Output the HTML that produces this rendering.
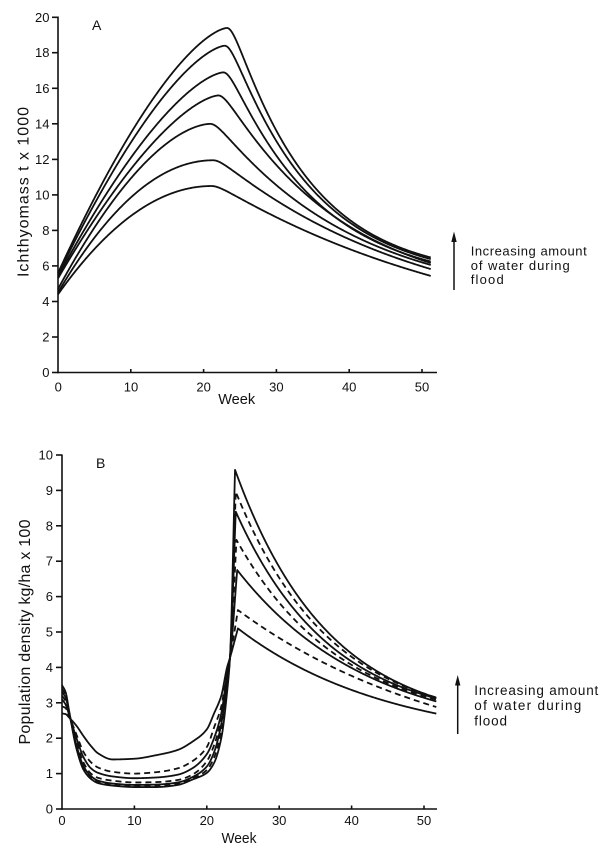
<!DOCTYPE html>
<html>
<head>
<meta charset="utf-8">
<style>
html,body{margin:0;padding:0;background:#fff;}
svg{display:block;}
text{font-family:"Liberation Sans",sans-serif;fill:#111;}
</style>
</head>
<body>
<svg id="s" width="600" height="847" viewBox="0 0 600 847" xmlns="http://www.w3.org/2000/svg">
  <!-- ================= PANEL A ================= -->
  <g stroke="#111" stroke-width="1.6" fill="none">
    <line x1="58" y1="16.5" x2="58" y2="373.2"/>
    <line x1="57.2" y1="372.5" x2="437" y2="372.5"/>
    <!-- y ticks -->
    <line x1="52" y1="372.5" x2="58" y2="372.5"/>
    <line x1="52" y1="337" x2="58" y2="337"/>
    <line x1="52" y1="301.5" x2="58" y2="301.5"/>
    <line x1="52" y1="265.9" x2="58" y2="265.9"/>
    <line x1="52" y1="230.4" x2="58" y2="230.4"/>
    <line x1="52" y1="194.9" x2="58" y2="194.9"/>
    <line x1="52" y1="159.4" x2="58" y2="159.4"/>
    <line x1="52" y1="123.8" x2="58" y2="123.8"/>
    <line x1="52" y1="88.3" x2="58" y2="88.3"/>
    <line x1="52" y1="52.7" x2="58" y2="52.7"/>
    <line x1="52" y1="17.3" x2="58" y2="17.3"/>
    <!-- x ticks -->
    <line x1="130.8" y1="369" x2="130.8" y2="372.5"/>
    <line x1="203.6" y1="369" x2="203.6" y2="372.5"/>
    <line x1="276.4" y1="369" x2="276.4" y2="372.5"/>
    <line x1="349.2" y1="369" x2="349.2" y2="372.5"/>
    <line x1="422" y1="369" x2="422" y2="372.5"/>
  </g>
  <g font-size="13" text-anchor="end">
    <text x="49.5" y="377">0</text>
    <text x="49.5" y="341.5">2</text>
    <text x="49.5" y="306">4</text>
    <text x="49.5" y="270.4">6</text>
    <text x="49.5" y="234.9">8</text>
    <text x="49.5" y="199.4">10</text>
    <text x="49.5" y="163.9">12</text>
    <text x="49.5" y="128.3">14</text>
    <text x="49.5" y="92.8">16</text>
    <text x="49.5" y="57.2">18</text>
    <text x="49.5" y="21.8">20</text>
  </g>
  <g font-size="13" text-anchor="middle">
    <text x="58.3" y="391.5">0</text>
    <text x="131" y="391.5">10</text>
    <text x="203.6" y="391.5">20</text>
    <text x="276.4" y="391.5">30</text>
    <text x="349.2" y="391.5">40</text>
    <text x="422" y="391.5">50</text>
  </g>
  <text x="236.7" y="404" font-size="15" text-anchor="middle" textLength="37" lengthAdjust="spacingAndGlyphs">Week</text>
  <text x="92" y="30" font-size="14">A</text>
  <text transform="translate(28.5,192) rotate(-90)" font-size="16" text-anchor="middle" textLength="170" lengthAdjust="spacing">Ichthyomass  t x 1000</text>
  <!-- legend A -->
  <line x1="454" y1="240" x2="454" y2="290" stroke="#111" stroke-width="1.5"/>
  <polygon points="454,231.5 451.3,242 456.7,242" fill="#111"/>
  <g font-size="13">
    <text x="470.7" y="255.5" textLength="116" lengthAdjust="spacing">Increasing amount</text>
    <text x="470.7" y="270" textLength="99" lengthAdjust="spacing">of water during</text>
    <text x="470.7" y="284" textLength="33" lengthAdjust="spacing">flood</text>
  </g>

  <!-- ================= PANEL B ================= -->
  <g stroke="#111" stroke-width="1.6" fill="none">
    <line x1="62" y1="454.5" x2="62" y2="809.7"/>
    <line x1="61.2" y1="809" x2="437" y2="809"/>
    <!-- y ticks -->
    <line x1="56" y1="809" x2="62" y2="809"/>
    <line x1="56" y1="773.6" x2="62" y2="773.6"/>
    <line x1="56" y1="738.2" x2="62" y2="738.2"/>
    <line x1="56" y1="702.8" x2="62" y2="702.8"/>
    <line x1="56" y1="667.4" x2="62" y2="667.4"/>
    <line x1="56" y1="632" x2="62" y2="632"/>
    <line x1="56" y1="596.6" x2="62" y2="596.6"/>
    <line x1="56" y1="561.2" x2="62" y2="561.2"/>
    <line x1="56" y1="525.8" x2="62" y2="525.8"/>
    <line x1="56" y1="490.4" x2="62" y2="490.4"/>
    <line x1="56" y1="455" x2="62" y2="455"/>
    <!-- x ticks -->
    <line x1="134.4" y1="805.5" x2="134.4" y2="809"/>
    <line x1="206.8" y1="805.5" x2="206.8" y2="809"/>
    <line x1="279.2" y1="805.5" x2="279.2" y2="809"/>
    <line x1="351.6" y1="805.5" x2="351.6" y2="809"/>
    <line x1="424" y1="805.5" x2="424" y2="809"/>
  </g>
  <g font-size="13" text-anchor="end">
    <text x="53" y="813.5">0</text>
    <text x="53" y="778.1">1</text>
    <text x="53" y="742.7">2</text>
    <text x="53" y="707.3">3</text>
    <text x="53" y="671.9">4</text>
    <text x="53" y="636.5">5</text>
    <text x="53" y="601.1">6</text>
    <text x="53" y="565.7">7</text>
    <text x="53" y="530.3">8</text>
    <text x="53" y="494.9">9</text>
    <text x="53" y="459.5">10</text>
  </g>
  <g font-size="13" text-anchor="middle">
    <text x="62" y="825">0</text>
    <text x="134.4" y="825">10</text>
    <text x="206.8" y="825">20</text>
    <text x="279.2" y="825">30</text>
    <text x="351.6" y="825">40</text>
    <text x="424" y="825">50</text>
  </g>
  <text x="239" y="843" font-size="15" text-anchor="middle" textLength="35" lengthAdjust="spacingAndGlyphs">Week</text>
  <text x="96" y="468" font-size="14">B</text>
  <text transform="translate(30,632) rotate(-90)" font-size="16" text-anchor="middle" textLength="225" lengthAdjust="spacing">Population density kg/ha x 100</text>
  <!-- legend B -->
  <line x1="457.7" y1="684" x2="457.7" y2="734" stroke="#111" stroke-width="1.5"/>
  <polygon points="457.7,675 455,685.5 460.4,685.5" fill="#111"/>
  <g font-size="13.5">
    <text x="474.3" y="695" textLength="124" lengthAdjust="spacing">Increasing amount</text>
    <text x="474.3" y="710" textLength="107" lengthAdjust="spacing">of water during</text>
    <text x="474.3" y="725.5" textLength="32.7" lengthAdjust="spacing">flood</text>
  </g>
  <g id="curves"></g>
</svg>
<script>
(function(){
  var NS="http://www.w3.org/2000/svg";
  var g=document.getElementById('curves');
  function addPath(d,dash){
    var p=document.createElementNS(NS,'path');
    p.setAttribute('d',d);
    p.setAttribute('fill','none');
    p.setAttribute('stroke','#111');
    p.setAttribute('stroke-width','1.8');
    p.setAttribute('stroke-linejoin','round');
    if(dash){p.setAttribute('stroke-dasharray','6 4');}
    g.appendChild(p);
  }
  // ---------- Panel A ----------
  var AX=function(t){return 58+t*7.28;}, AY=function(v){return 372.5-v*17.76;};
  var A=[
    [5.6,19.4,23.2,1.5,5.3,10.8],
    [5.5,18.4,22.9,1.5,5.1,11.6],
    [5.4,16.9,22.7,1.5,4.9,12.5],
    [5.3,15.6,22.0,1.5,4.0,16.7],
    [4.7,14.0,20.9,1.7,3.8,19.3],
    [4.5,11.95,21.3,2.0,2.4,28],
    [4.4,10.5,21.1,2.0,1.0,38]
  ];
  A.forEach(function(c){
    var v0=c[0],P=c[1],tp=c[2],n=c[3],E=c[4],tau=c[5];
    var pts=[];
    for(var i=0;i<=512;i++){
      var t=i*0.1,v;
      if(t<=tp){var s=t/tp; v=v0+(P-v0)*(1-Math.pow(1-s,n));}
      else{var u=t-tp,cc=1.2; v=E+(P-E)*Math.exp(-(Math.sqrt(u*u+cc*cc)-cc)/tau);}
      pts.push(AX(t).toFixed(2)+','+AY(v).toFixed(2));
    }
    addPath('M'+pts.join('L'),false);
  });
  // ---------- Panel B ----------
  var BX=function(t){return 62+t*7.24;}, BY=function(v){return 809-v*35.4;};
  function mono(xs,ys){
    var n=xs.length,d=[],m=new Array(n),i;
    for(i=0;i<n-1;i++){d.push((ys[i+1]-ys[i])/(xs[i+1]-xs[i]));}
    m[0]=d[0]; m[n-1]=d[n-2];
    for(i=1;i<n-1;i++){
      if(d[i-1]*d[i]<=0){m[i]=0;}
      else{
        var h0=xs[i]-xs[i-1],h1=xs[i+1]-xs[i];
        var w1=2*h1+h0,w2=h1+2*h0;
        m[i]=(w1+w2)/(w1/d[i-1]+w2/d[i]);
      }
    }
    return function(t){
      var k=0; while(k<n-2 && t>xs[k+1]) k++;
      var h=xs[k+1]-xs[k], s=(t-xs[k])/h;
      var s2=s*s,s3=s2*s;
      return (2*s3-3*s2+1)*ys[k]+(s3-2*s2+s)*h*m[k]+(-2*s3+3*s2)*ys[k+1]+(s3-s2)*h*m[k+1];
    };
  }
  var W=[0,0.5,1,2,3,4,5,7,10,13,16,18,20,21,22,22.8,23.2];
  var B=[
    {v:[3.5,3.3,2.75,1.7,1.1,0.85,0.73,0.66,0.62,0.62,0.68,0.83,1.02,1.3,2.0,3.3,4.27],tp:23.9,P:9.58,E:2.3,tau:12.9,dash:false},
    {v:[3.4,3.2,2.72,1.75,1.15,0.88,0.76,0.68,0.65,0.65,0.71,0.86,1.1,1.45,2.2,3.45,4.27],tp:24.0,P:8.96,E:2.35,tau:13.1,dash:true},
    {v:[3.3,3.15,2.7,1.8,1.2,0.93,0.8,0.72,0.68,0.69,0.75,0.9,1.2,1.6,2.4,3.6,4.27],tp:24.0,P:8.4,E:2.4,tau:13.1,dash:false},
    {v:[3.2,3.05,2.68,1.9,1.3,1.0,0.88,0.8,0.75,0.76,0.82,0.97,1.35,1.8,2.55,3.7,4.27],tp:24.1,P:7.6,E:2.3,tau:14.5,dash:true},
    {v:[3.1,2.95,2.65,2.0,1.45,1.15,1.02,0.92,0.87,0.89,0.97,1.15,1.55,2.0,2.7,3.8,4.27],tp:24.2,P:6.75,E:2.0,tau:18.1,dash:false},
    {v:[2.9,2.85,2.62,2.1,1.6,1.32,1.17,1.05,1.0,1.04,1.15,1.35,1.75,2.3,2.9,3.9,4.27],tp:24.3,P:5.62,E:1.0,tau:30.5,dash:true},
    {v:[2.7,2.68,2.58,2.35,2.05,1.78,1.57,1.4,1.42,1.52,1.67,1.9,2.25,2.7,3.2,4.0,4.27],tp:24.3,P:5.1,E:1.8,tau:21,dash:false}
  ];
  B.forEach(function(c){
    var xs=W.concat([c.tp]), ys=c.v.concat([c.P]);
    var f=mono(xs,ys);
    var pts=[],t;
    for(t=0;t<c.tp;t+=0.05){pts.push(BX(t).toFixed(2)+','+BY(f(t)).toFixed(2));}
    pts.push(BX(c.tp).toFixed(2)+','+BY(c.P).toFixed(2));
    for(t=c.tp+0.1;t<=51.75;t+=0.1){
      var v=c.E+(c.P-c.E)*Math.exp(-(t-c.tp)/c.tau);
      pts.push(BX(t).toFixed(2)+','+BY(v).toFixed(2));
    }
    addPath('M'+pts.join('L'),c.dash);
  });
})();
</script>
</body>
</html>
